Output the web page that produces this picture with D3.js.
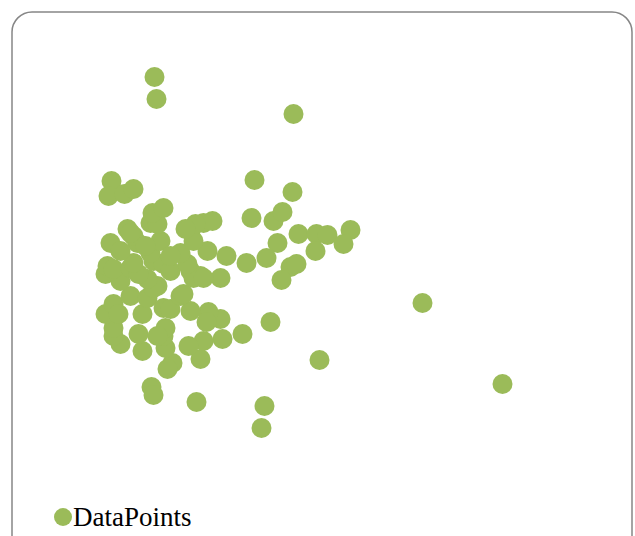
<!DOCTYPE html>
<html>
<head>
<meta charset="utf-8">
<script src="https://cdn.jsdelivr.net/npm/d3@7"></script>
<style>
    body { margin: 0; background: #fff; }
    .legend-label { font-family: 'Liberation Serif', 'Times New Roman', serif; font-size: 27px; fill: #000; }
</style>
</head>
<body>
<div id="chart"></div>
<script>
var SERIES_NAME = 'DataPoints'

var xValues = [20.8, 21.2, 48.6, 40.8, 48.4, 12.2, 11.6, 14.8, 16.6, 40.2,
    44.6, 46.4, 49.6, 53.2, 55.4, 60, 58.6, 45.4, 53, 43.2,
    39.2, 35.2, 34, 48, 49.2, 46.2, 74.4, 90.4, 53.8, 44,
    38.4, 42.8, 42.2, 29.2, 20.2, 20.6, 24.4, 23.4, 30, 34.4,
    34, 31.6, 31.2, 30.6, 27.6, 23, 22.6, 23, 18.4, 14,
    12.6, 12.6, 11, 12.6, 13.6, 17.6, 21.4, 18.4, 16, 19.4,
    22.6, 24, 28, 26, 26.6, 21.4, 20.6, 19.4, 14, 11,
    11.4, 12.6, 16, 17.6, 16.6, 20.6, 22.6, 24, 28, 30,
    28.6, 30.6, 27.4, 26, 31.4, 20, 22, 17.4, 12, 15.4,
    16.6, 20, 21.4, 20.4, 22.6, 28, 28.6, 30.6, 32.4, 29,
    27, 16, 19, 14, 24]

var yValues = [93.5, 88, 84.25, 67.75, 64.75, 67.5, 63.75, 64.25, 65.5, 58.25,
    57.5, 59.75, 54.25, 54.25, 54, 55.25, 51.75, 52, 50, 48.25,
    47, 48.75, 43.25, 46, 46.75, 42.75, 37, 16.75, 22.75, 32.25,
    29.25, 11.25, 5.75, 12.25, 16, 14, 22, 20.5, 23, 28,
    33, 34.75, 32.25, 27.5, 26.25, 25.75, 28.75, 30.75, 25, 26.75,
    28.75, 30.75, 34.25, 36.75, 34.25, 29.25, 28.75, 34.25, 38.75, 38.25,
    35.75, 35.5, 35, 38.75, 39.25, 41.25, 40.75, 43, 42.5, 44.25,
    46.25, 45.5, 45.75, 44.25, 47, 47.5, 46.75, 45, 45, 43.75,
    43.25, 43.25, 46.75, 49.5, 50, 49.5, 52.5, 52, 52, 55.5,
    53.75, 57, 56.75, 59.5, 60.75, 55, 52.5, 57, 57.5, 56.75,
    55.5, 54.5, 51.25, 50, 48.75]

var width = 635
var height = 536
var color = '#9bbb59'

var points = xValues.map(function (x, i) { return { x: x, y: yValues[i] } })

var svg = d3.select('#chart')
    .append('svg')
    .attr('width', width)
    .attr('height', height)

svg.append('rect')
    .attr('x', 12)
    .attr('y', 12)
    .attr('width', 620)
    .attr('height', 560)
    .attr('rx', 20)
    .attr('ry', 20)
    .attr('fill', '#fff')
    .attr('stroke', '#868686')
    .attr('stroke-width', 1.5)

var x = d3.scaleLinear().domain([0, 100]).range([50.5, 550.5])
var y = d3.scaleLinear().domain([0, 100]).range([451, 51])

svg.append('g')
    .selectAll('circle')
    .data(points)
    .enter().append('circle')
    .attr('cx', function (d) { return x(d.x) })
    .attr('cy', function (d) { return y(d.y) })
    .attr('r', 10)
    .attr('fill', color)

var legend = svg.append('g')
    .attr('transform', 'translate(63,517)')

legend.append('circle')
    .attr('r', 9)
    .attr('fill', color)

legend.append('text')
    .attr('class', 'legend-label')
    .attr('x', 10)
    .attr('y', 9)
    .text(SERIES_NAME)
</script>
</body>
</html>
